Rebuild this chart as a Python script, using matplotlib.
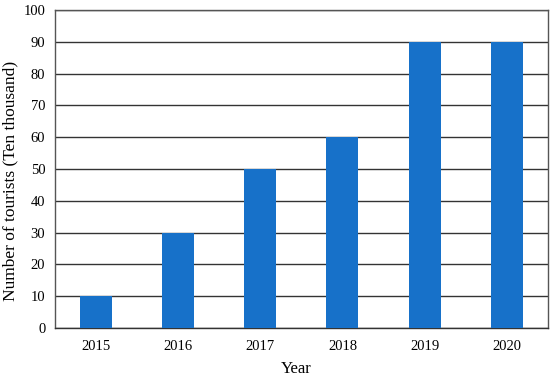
import matplotlib
matplotlib.use("Agg")
import matplotlib.pyplot as plt

years = ["2015", "2016", "2017", "2018", "2019", "2020"]
tourists = [10, 30, 50, 60, 90, 90]
y_ticks = [0, 10, 20, 30, 40, 50, 60, 70, 80, 90, 100]

plt.rcParams['font.family'] = ['Liberation Serif', 'DejaVu Serif']

fig = plt.figure(figsize=(5.5, 3.79), dpi=100)
ax = fig.add_axes([0.1, 0.1346, 0.896, 0.839])

ax.bar(range(len(years)), tourists, width=0.39, color='#1771c9', zorder=3)
ax.set_xlim(-0.5, len(years) - 0.5)
ax.set_ylim(0, 100)
ax.set_yticks(y_ticks)
ax.set_xticks(range(len(years)))
ax.set_xticklabels(years)
ax.yaxis.grid(True, color='#333333', linewidth=1.0, zorder=0)
ax.tick_params(length=0, labelsize=10.5)
ax.tick_params(axis='y', pad=7)
ax.tick_params(axis='x', pad=9)
for s in ax.spines.values():
    s.set_color('#555555')
    s.set_linewidth(1.0)
ax.spines['bottom'].set_color('#333333')

ax.set_xlabel("Year", fontsize=12)
ax.xaxis.set_label_coords(0.49, -0.105)
ax.set_ylabel("Number of tourists (Ten thousand)", fontsize=12.5)
ax.yaxis.set_label_coords(-0.074, 0.462)

fig.savefig("out.png", dpi=100)
